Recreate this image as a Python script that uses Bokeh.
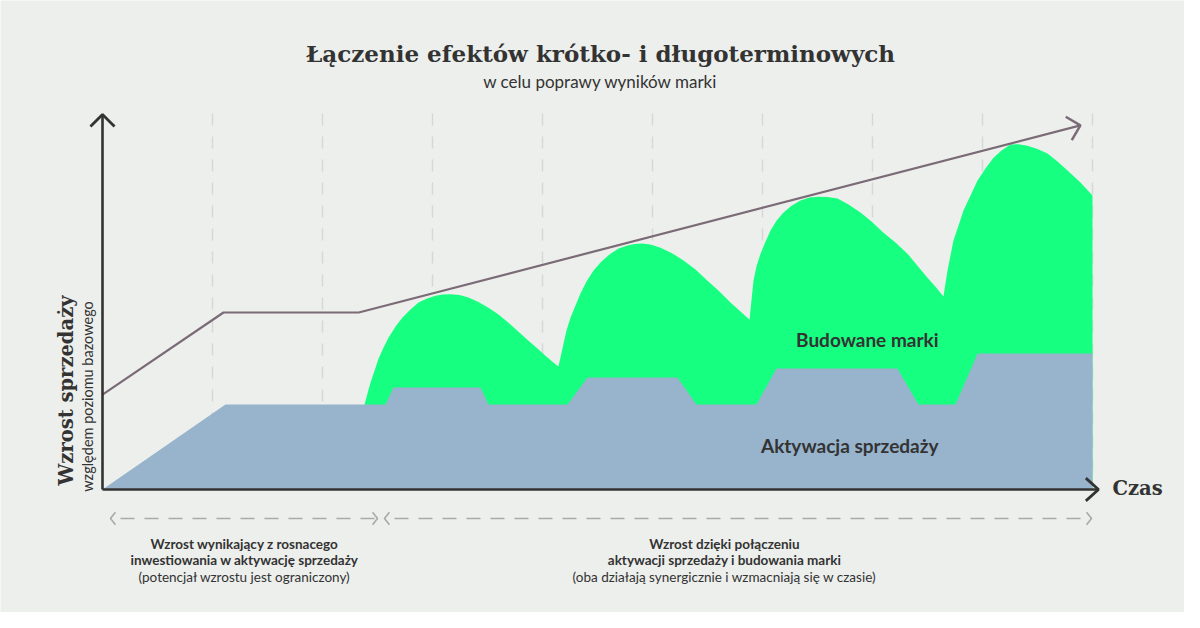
import math
from bokeh.plotting import figure
from bokeh.models import Range1d, Label
from bokeh.embed import file_html
from bokeh.resources import INLINE

# ---------------- data (time in periods, sales growth in relative units) -------------
period_ticks = [1, 2, 3, 4, 5, 6, 7, 8, 9]

# "Aktywacja sprzedaży" (short-term activation) level
activation_t = [0, 1.118, 2.573, 2.645, 3.436, 3.509, 4.227, 4.409, 5.227, 5.4,
                5.945, 6.127, 7.227, 7.418, 7.755, 7.955, 9.0]
activation_v = [0, 22.7, 22.7, 27.2, 27.2, 22.7, 22.7, 29.9, 29.9, 22.7,
                22.7, 32.3, 32.3, 22.7, 22.7, 36.3, 36.3]

# "Budowane marki" (brand building) upper outline
brand_t = [2.382, 2.409, 2.436, 2.473, 2.509, 2.555, 2.600, 2.664, 2.727, 2.800,
           2.873, 2.945, 3.027, 3.091, 3.164, 3.245, 3.327, 3.418, 3.509, 3.600,
           3.691, 3.782, 3.873, 3.955, 4.027, 4.091, 4.145,
           4.191, 4.218, 4.255, 4.300, 4.345, 4.400, 4.464, 4.536, 4.618, 4.691,
           4.773, 4.836, 4.909, 4.991, 5.073, 5.173, 5.282, 5.391, 5.500, 5.609,
           5.709, 5.800, 5.882,
           5.918, 5.945, 5.982, 6.027, 6.073, 6.127, 6.191, 6.264, 6.345, 6.427,
           6.509, 6.591, 6.682, 6.782, 6.891, 6.991, 7.100, 7.209, 7.318, 7.409,
           7.500, 7.573, 7.645,
           7.682, 7.709, 7.736, 7.782, 7.827, 7.891, 7.955, 8.027, 8.100, 8.173,
           8.255, 8.327, 8.409, 8.500, 8.591, 8.682, 8.773, 8.891, 9.000]
brand_v = [22.7, 25.6, 28.5, 31.7, 34.9, 37.9, 40.5, 43.5, 45.9, 48.0,
           49.9, 50.9, 51.7, 52.0, 52.1, 51.9, 51.2, 50.0, 48.5, 46.7,
           44.5, 42.1, 39.7, 37.6, 35.7, 34.1, 32.8,
           38.9, 42.4, 45.9, 49.1, 52.3, 55.5, 58.4, 60.8, 62.9, 64.3,
           65.1, 65.5, 65.6, 65.3, 64.5, 63.1, 61.1, 58.7, 55.7, 52.8,
           49.9, 47.5, 45.3,
           55.7, 59.5, 62.9, 66.1, 69.1, 71.7, 73.9, 75.7, 77.1, 77.9,
           78.1, 78.0, 77.6, 76.0, 73.9, 71.5, 68.5, 65.9, 62.9, 59.7,
           56.5, 54.1, 51.5,
           58.4, 62.4, 66.4, 70.4, 74.4, 78.4, 82.4, 85.6, 88.5, 90.4,
           92.0, 92.1, 91.7, 90.8, 89.6, 87.5, 85.1, 81.9, 78.4]

# overall growth trend line
trend_t = [0, 1.1, 2.33, 8.89]
trend_v = [25.3, 47.2, 47.2, 97.1]

# ---------------- layout / style -------------
W, H = 1184, 612
PX_PER_T = 110.0
PX_PER_V = 3.75
ORIGIN_PX, ORIGIN_PY = 102, 489          # where the axes cross in the picture


def px2t(px):
    return (px - ORIGIN_PX) / PX_PER_T


def py2v(py):
    return (ORIGIN_PY - py) / PX_PER_V


X0, X1 = px2t(0), px2t(W)
Y0, Y1 = py2v(H), py2v(0)

BG = "#edefec"
GREEN = "#17ff80"
BLUE = "#97b4cc"
TREND = "#7b6b77"
INK = "#333333"
GRID = "#d5d8d6"
DASH = "#a8aaa8"
SERIF = "DejaVu Serif"
SANS = "Lato"

Y_AXIS_TOP = 100.0
X_AXIS_END = px2t(1098)
GRID_TOP = py2v(113)

p = figure(width=W, height=H, x_range=Range1d(X0, X1), y_range=Range1d(Y0, Y1),
           output_backend="svg", toolbar_location=None, min_border=0,
           x_axis_location=None, y_axis_location=None,
           background_fill_color=BG, border_fill_color=BG, outline_line_color=None)
p.grid.visible = False


def chevron(tip_t, tip_v, dir_t, dir_v, length, angle_deg):
    dx, dy = dir_t * PX_PER_T, dir_v * PX_PER_V
    n = math.hypot(dx, dy)
    bx, by = -dx / n, -dy / n
    xs, ys = [], []
    for s in (1, -1):
        a = math.radians(angle_deg) * s
        rx = bx * math.cos(a) - by * math.sin(a)
        ry = bx * math.sin(a) + by * math.cos(a)
        xs.append(tip_t + rx * length / PX_PER_T)
        ys.append(tip_v + ry * length / PX_PER_V)
    return [xs[0], tip_t, xs[1]], [ys[0], tip_v, ys[1]]


# vertical dashed period lines
p.multi_line(xs=[[t, t] for t in period_ticks], ys=[[GRID_TOP, 0] for _ in period_ticks],
             line_color=GRID, line_width=1.5, line_dash="12 11")

# areas
p.varea(x=brand_t, y1=[0] * len(brand_t), y2=brand_v, fill_color=GREEN)
p.varea(x=activation_t, y1=[0] * len(activation_t), y2=activation_v, fill_color=BLUE)

# trend line with arrow head
p.line(trend_t, trend_v, line_color=TREND, line_width=2.2)
hx, hy = chevron(trend_t[-1], trend_v[-1], trend_t[-1] - trend_t[-2], trend_v[-1] - trend_v[-2], 17, 45)
p.line(hx, hy, line_color=TREND, line_width=2.5)

# axes with arrow heads
p.line([0, 0], [0, Y_AXIS_TOP], line_color=INK, line_width=2.6)
hx, hy = chevron(0, Y_AXIS_TOP, 0, 1, 17, 45)
p.line(hx, hy, line_color=INK, line_width=2.8)
p.line([0, X_AXIS_END], [0, 0], line_color=INK, line_width=2.6)
hx, hy = chevron(X_AXIS_END, 0, 1, 0, 17, 42)
p.line(hx, hy, line_color=INK, line_width=2.8)

# phase span arrows below the time axis
span_v = py2v(518)
for a, b in [(px2t(110), px2t(377)), (px2t(384), px2t(1091))]:
    p.line([a, b], [span_v, span_v], line_color=DASH, line_width=1.6,
           line_dash="14 10", line_dash_offset=14)
    hx, hy = chevron(a, span_v, -1, 0, 8, 52)
    p.line(hx, hy, line_color=DASH, line_width=1.6)
    hx, hy = chevron(b, span_v, 1, 0, 8, 52)
    p.line(hx, hy, line_color=DASH, line_width=1.6)


def label(text, px, py, font, size, style="normal", align="center", angle=0.0,
          color=INK, baseline="middle"):
    p.add_layout(Label(x=px2t(px), y=py2v(py), text=text, text_font=font,
                       text_font_size=size, text_font_style=style, text_align=align,
                       text_baseline=baseline, angle=angle, text_color=color))


label("Łączenie efektów krótko- i długoterminowych", 600, 53, SERIF, "23px", "bold")
label("w celu poprawy wyników marki", 600, 81, SANS, "17px")

label("Wzrost sprzedaży", 66, 390, SERIF, "19.5px", "bold", angle=math.pi / 2)
label("względem poziomu bazowego", 87, 396, SANS, "14.5px", angle=math.pi / 2)

label("Czas", 1112, 488, SERIF, "19.5px", "bold", align="left")

label("Budowane marki", 938, 339, SANS, "19px", "bold", align="right")
label("Aktywacja sprzedaży", 938, 445, SANS, "19px", "bold", align="right")

label("Wzrost wynikający z rosnacego", 244, 543, SANS, "13.5px", "bold")
label("inwestiowania w aktywację sprzedaży", 244, 559, SANS, "13.5px", "bold")
label("(potencjał wzrostu jest ograniczony)", 244, 576, SANS, "13.5px")

label("Wzrost dzięki połączeniu", 724, 543, SANS, "13.5px", "bold")
label("aktywacji sprzedaży i budowania marki", 724, 559, SANS, "13.5px", "bold")
label("(oba działają synergicznie i wzmacniają się w czasie)", 724, 576, SANS, "13.5px")

open("out.html", "w").write(file_html(p, INLINE))
